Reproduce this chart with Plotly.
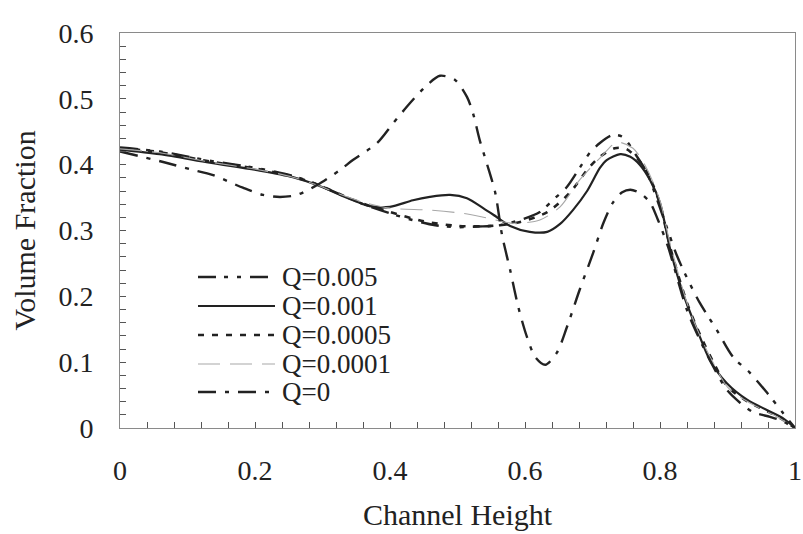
import plotly.graph_objects as go

# ---------------- data ----------------
x_q0 = [0, 0.064, 0.104, 0.138, 0.182, 0.212, 0.237, 0.262, 0.292, 0.326, 0.345, 0.381,
        0.404, 0.430, 0.455, 0.474, 0.496, 0.514, 0.523, 0.533, 0.544, 0.556, 0.566, 0.578,
        0.590, 0.603, 0.615, 0.630, 0.647, 0.662, 0.681, 0.701, 0.716, 0.730, 0.744, 0.756,
        0.770, 0.785, 0.797, 0.812, 0.840, 0.859, 0.879, 0.899, 0.919, 0.938, 0.963, 0.978, 1.0]
y_q0 = [0.420, 0.404, 0.393, 0.384, 0.365, 0.354, 0.351, 0.354, 0.369, 0.392, 0.407, 0.433,
        0.462, 0.494, 0.521, 0.535, 0.529, 0.503, 0.478, 0.437, 0.400, 0.357, 0.293, 0.240,
        0.184, 0.138, 0.108, 0.096, 0.114, 0.153, 0.210, 0.266, 0.311, 0.342, 0.358, 0.362,
        0.357, 0.343, 0.316, 0.275, 0.179, 0.134, 0.093, 0.058, 0.038, 0.024, 0.017, 0.012, 0.0]

x_q001 = [0, 0.059, 0.133, 0.207, 0.256, 0.292, 0.326, 0.348, 0.370, 0.400, 0.434, 0.459,
          0.489, 0.514, 0.538, 0.556, 0.578, 0.607, 0.633, 0.652, 0.671, 0.692, 0.711, 0.721,
          0.741, 0.756, 0.770, 0.785, 0.800, 0.815, 0.834, 0.855, 0.874, 0.899, 0.929, 0.959,
          0.982, 1.0]
y_q001 = [0.423, 0.416, 0.403, 0.391, 0.381, 0.369, 0.354, 0.345, 0.337, 0.336, 0.346, 0.351,
          0.354, 0.349, 0.334, 0.322, 0.307, 0.298, 0.298, 0.310, 0.331, 0.360, 0.395, 0.407,
          0.416, 0.412, 0.400, 0.377, 0.342, 0.272, 0.205, 0.149, 0.103, 0.068, 0.043, 0.027,
          0.015, 0.0]

x_q005 = [0, 0.059, 0.133, 0.207, 0.256, 0.292, 0.326, 0.360, 0.400, 0.433, 0.467, 0.500,
          0.530, 0.563, 0.593, 0.622, 0.641, 0.662, 0.681, 0.696, 0.711, 0.730, 0.745, 0.766,
          0.781, 0.796, 0.810, 0.825, 0.840, 0.859, 0.884, 0.908, 0.933, 0.959, 0.982, 1.0]
y_q005 = [0.426, 0.420, 0.406, 0.394, 0.383, 0.370, 0.355, 0.340, 0.326, 0.316, 0.308, 0.305,
          0.306, 0.308, 0.316, 0.328, 0.346, 0.366, 0.395, 0.418, 0.433, 0.445, 0.442, 0.412,
          0.387, 0.346, 0.305, 0.262, 0.228, 0.190, 0.149, 0.108, 0.084, 0.053, 0.023, 0.0]

x_q0005 = [0, 0.059, 0.133, 0.207, 0.256, 0.292, 0.326, 0.360, 0.400, 0.450, 0.500, 0.550,
           0.593, 0.633, 0.667, 0.692, 0.711, 0.733, 0.750, 0.770, 0.785, 0.800, 0.815, 0.840,
           0.860, 0.880, 0.900, 0.930, 0.960, 0.980, 1.0]
y_q0005 = [0.425, 0.419, 0.405, 0.393, 0.382, 0.370, 0.355, 0.341, 0.328, 0.314, 0.307, 0.307,
           0.313, 0.328, 0.358, 0.392, 0.412, 0.425, 0.424, 0.405, 0.380, 0.340, 0.275, 0.190,
           0.140, 0.098, 0.063, 0.040, 0.025, 0.014, 0.0]

x_q0001 = [0, 0.059, 0.133, 0.207, 0.256, 0.292, 0.326, 0.360, 0.400, 0.459, 0.508, 0.544,
           0.582, 0.622, 0.652, 0.681, 0.711, 0.736, 0.760, 0.780, 0.800, 0.815, 0.840, 0.860,
           0.880, 0.900, 0.930, 0.960, 0.980, 1.0]
y_q0001 = [0.424, 0.418, 0.404, 0.392, 0.381, 0.369, 0.355, 0.343, 0.334, 0.331, 0.326, 0.319,
           0.311, 0.316, 0.336, 0.377, 0.410, 0.434, 0.425, 0.395, 0.345, 0.280, 0.190, 0.138,
           0.097, 0.062, 0.040, 0.024, 0.013, 0.0]

series_names = ["Q=0.005", "Q=0.001", "Q=0.0005", "Q=0.0001", "Q=0"]
series_x = [x_q005, x_q001, x_q0005, x_q0001, x_q0]
series_y = [y_q005, y_q001, y_q0005, y_q0001, y_q0]

x_tick_vals = [0, 0.2, 0.4, 0.6, 0.8, 1]
x_tick_text = ["0", "0.2", "0.4", "0.6", "0.8", "1"]
y_tick_vals = [0, 0.1, 0.2, 0.3, 0.4, 0.5, 0.6]
y_tick_text = ["0", "0.1", "0.2", "0.3", "0.4", "0.5", "0.6"]

# ---------------- styles ----------------
INK = "#222222"
styles = [
    dict(color=INK, width=2.4, dash="18px,8px,4px,9px,4px,9px"),
    dict(color=INK, width=2.2, dash="solid"),
    dict(color=INK, width=2.6, dash="6px,8px"),
    dict(color="#a8a8a8", width=1.1, dash="22px,10px"),
    dict(color=INK, width=2.4, dash="18px,9px,4px,9px"),
]

FONT = "Liberation Serif, Times New Roman, serif"

fig = go.Figure()
for name, xs, ys, st in zip(series_names, series_x, series_y, styles):
    fig.add_trace(go.Scatter(x=xs, y=ys, mode="lines", name=name,
                             line=dict(shape="spline", smoothing=0.8, **st),
                             showlegend=False))

# manual legend (long sample lines, tight rows like the original)
W, H = 803, 534
ml, mr, mt, mb = 120, 8, 33, 106
pw, ph = W - ml - mr, H - mt - mb
row_px = [277, 306, 335, 364, 392]
for name, st, py in zip(series_names, styles, row_px):
    yp = 1 - (py - mt) / ph
    fig.add_shape(type="line", xref="paper", yref="paper",
                  x0=(198 - ml) / pw, x1=(275 - ml) / pw, y0=yp, y1=yp,
                  line=dict(color=st["color"], width=st["width"], dash=st["dash"]))
    fig.add_annotation(xref="paper", yref="paper", x=(281 - ml) / pw, y=yp,
                       text=name, showarrow=False, xanchor="left", yanchor="middle",
                       borderpad=0,
                       font=dict(family=FONT, size=27, color=INK))

axis_common = dict(showgrid=False, zeroline=False, showline=True, linecolor="#8a8a8a",
                   linewidth=1, mirror=True, ticks="inside", ticklen=6, tickcolor="#555",
                   tickfont=dict(family=FONT, size=28, color=INK))

fig.update_xaxes(range=[0, 1], tickvals=x_tick_vals, ticktext=x_tick_text,
                 minor=dict(dtick=0.04, tick0=0, ticks="inside", ticklen=6, tickcolor="#555"),
                 ticklabelstandoff=17,
                 title=dict(text="Channel Height", font=dict(family=FONT, size=30, color=INK),
                            standoff=19),
                 **axis_common)
fig.update_yaxes(range=[0, 0.6], tickvals=y_tick_vals, ticktext=y_tick_text,
                 minor=dict(dtick=0.02, tick0=0, ticks="inside", ticklen=6, tickcolor="#555"),
                 ticklabelstandoff=20,
                 title=dict(text="Volume Fraction", font=dict(family=FONT, size=30, color=INK),
                            standoff=13),
                 **axis_common)

fig.update_layout(width=W, height=H, margin=dict(l=ml, r=mr, t=mt, b=mb, autoexpand=False),
                  plot_bgcolor="white", paper_bgcolor="white")

fig.write_html("out.html")
